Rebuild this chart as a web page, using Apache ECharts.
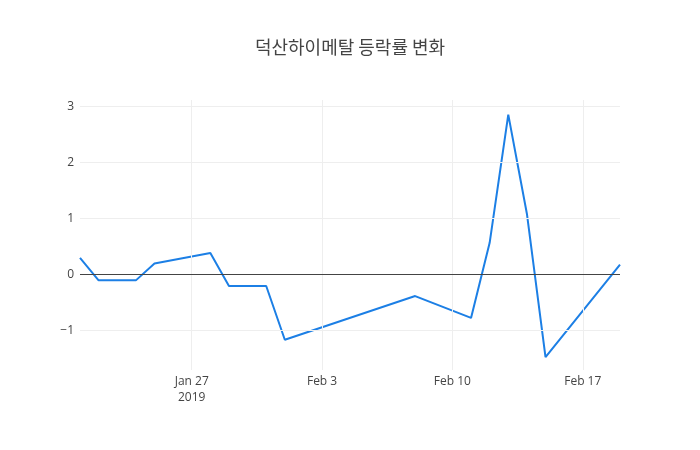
<!DOCTYPE html>
<html lang="ko">
  <head>
    <meta charset="UTF-8" />
    <title>덕산하이메탈 등락률 변화</title>
    <script src="https://cdn.jsdelivr.net/npm/echarts@6/dist/echarts.min.js"></script>
    <style>
      html, body { margin: 0; padding: 0; background: #fff; }
    </style>
  </head>
  <body>
    <div id="chart" style="width: 700px; height: 450px"></div>
    <script>
      // 데이터
      var dates = ['2019-01-21', '2019-01-22', '2019-01-24', '2019-01-25', '2019-01-28', '2019-01-29', '2019-01-31', '2019-02-01',
        '2019-02-08', '2019-02-11', '2019-02-12', '2019-02-13', '2019-02-14', '2019-02-15', '2019-02-19'];
      var rates = [0.29, -0.11, -0.11, 0.19, 0.38, -0.21, -0.21, -1.17, -0.39, -0.78, 0.56, 2.85, 1.08, -1.48, 0.17];
      var xTicks = ['2019-01-27', '2019-02-03', '2019-02-10', '2019-02-17'];
      var yTicks = [-1, 0, 1, 2, 3];
      var monthNames = ['Jan', 'Feb', 'Mar', 'Apr', 'May', 'Jun', 'Jul', 'Aug', 'Sep', 'Oct', 'Nov', 'Dec'];

      var baseDay = Date.UTC(2019, 0, 27);
      function toDay(s) {
        var p = s.split('-');
        return Math.round((Date.UTC(+p[0], +p[1] - 1, +p[2]) - baseDay) / 864e5);
      }
      var xTickDays = xTicks.map(toDay);
      var seriesData = dates.map(function (d, i) { return [toDay(d), rates[i]]; });

      var chart = echarts.init(document.getElementById('chart'));
      var tickFont = { color: '#444', fontSize: 12, fontFamily: '"Open Sans", sans-serif' };

      chart.setOption({
        animation: false,
        title: {
          text: '덕산하이메탈 등락률 변화',
          left: 'center',
          top: 33,
          textStyle: { color: '#444', fontSize: 18, fontWeight: 'normal', fontFamily: '"Noto Sans CJK KR", sans-serif' }
        },
        grid: { left: 80, right: 80, top: 100, bottom: 80, containLabel: false },
        xAxis: {
          type: 'value',
          min: toDay(dates[0]),
          max: toDay(dates[dates.length - 1]),
          axisLine: { show: false },
          axisTick: { show: false, customValues: xTickDays },
          axisLabel: {
            customValues: xTickDays,
            margin: 4,
            lineHeight: 16,
            color: tickFont.color,
            fontSize: tickFont.fontSize,
            fontFamily: tickFont.fontFamily,
            formatter: function (v) {
              var d = new Date(baseDay + v * 864e5);
              var txt = monthNames[d.getUTCMonth()] + ' ' + d.getUTCDate();
              if (v === xTickDays[0]) txt += '\n' + d.getUTCFullYear();
              return txt;
            }
          },
          splitLine: { show: false }
        },
        yAxis: {
          type: 'value',
          min: -1.71,
          max: 3.11,
          axisLine: { show: false },
          axisTick: { show: false, customValues: yTicks },
          axisLabel: {
            customValues: yTicks,
            margin: 6,
            color: tickFont.color,
            fontSize: tickFont.fontSize,
            fontFamily: tickFont.fontFamily,
            formatter: function (v) { return v < 0 ? '\u2212' + Math.abs(v) : String(v); }
          },
          splitLine: { show: false }
        },
        series: [
          {
            // 격자선
            type: 'line',
            data: [],
            silent: true,
            markLine: {
              silent: true,
              symbol: 'none',
              label: { show: false },
              lineStyle: { color: '#eee', width: 1, type: 'solid' },
              data: xTickDays.map(function (d) { return { xAxis: d }; })
                .concat(yTicks.filter(function (t) { return t !== 0; }).map(function (t) { return { yAxis: t }; }))
            }
          },
          {
            type: 'line',
            data: seriesData,
            showSymbol: false,
            symbol: 'none',
            lineStyle: { color: '#1c7fe5', width: 2 },
            itemStyle: { color: '#1c7fe5' },
            markLine: {
              silent: true,
              symbol: 'none',
              label: { show: false },
              lineStyle: { color: '#444', width: 1, type: 'solid' },
              data: [{ yAxis: 0 }]
            },
            z: 3
          }
        ]
      });
    </script>
  </body>
</html>
